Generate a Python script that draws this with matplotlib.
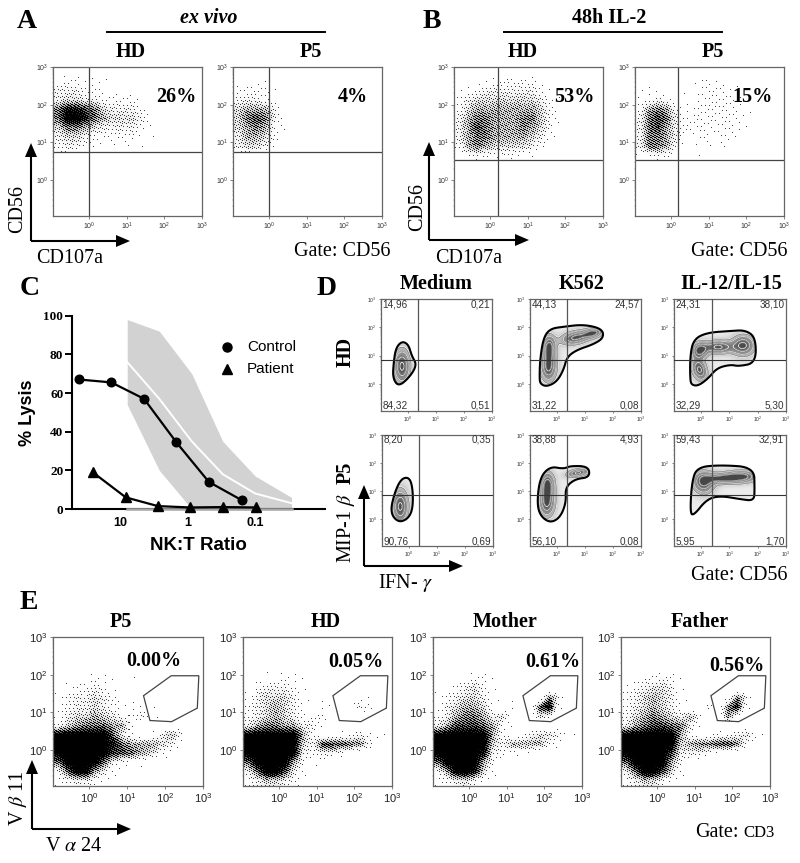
import numpy as np
import matplotlib
matplotlib.use("Agg")
import matplotlib.pyplot as plt
from matplotlib.patches import Polygon

plt.rcParams["font.family"] = ["Liberation Serif", "DejaVu Serif"]
plt.rcParams["mathtext.fontset"] = "stix"

W, H = 800, 863
LOG_MIN = -0.96

# panel C
control_ratio = [42, 13.8, 4.5, 1.49, 0.49, 0.158]
control_lysis = [67, 65.5, 57, 34.5, 14, 4.5]
patient_ratio = [26, 8.4, 2.8, 0.93, 0.3, 0.098]
patient_lysis = [19, 6, 1.5, 0.8, 1, 0.8]
band_ratio = [8, 2.67, 0.88, 0.305, 0.1, 0.029]
band_top = [98, 92, 70, 35, 17, 6]
band_low = [54, 20, 0, 0, 0, 0]
band_mean = [76, 57, 35, 18, 8, 3]

# dot density: one digit per cell, 16 by 16 cells, top row first
a_hd_density = ["0000000000000000", "1221110000000000", "3332211110000000", "3443322221000000",
                "6887643332100000", "6998654443100000", "4665433332100000", "3443222221100000",
                "2332111111000000", "1110000000000000"]
a_p5_density = ["0000000000000000", "1111000000000000", "2222100000000000", "2332100000000000",
                "4555310000000000", "4676310100000000", "4565210100000000", "3554210000000000",
                "3443100000000000", "0110000000000000"]
b_hd_density = ["0000000000000000", "0011222221000000", "1123333332100000", "2344444443110000",
                "2455555554210000", "3566555664210000", "3576555654200000", "3566555543100000",
                "2565444432000000", "1232222110000000"]
b_p5_density = ["0000000000000000", "0000001211100000", "1110011222110000", "1232111222211000",
                "2565212222211000", "3676322222211000", "3675322212211000", "3665311212110000",
                "3665211111100000", "1232100100000000"]
e_p5_density = ["0000000000000000", "0000000000000000", "0000001000000000", "0000110010000000",
                "0111211000000000", "0122321000000000", "1233432100000000", "1233432111100000",
                "1344543223100000", "2456665510000000", "9999996310135300", "9999998655543100",
                "9999997765421000", "6999963211000000", "2699531000000000", "1233210100000000"]
e_hd_density = ["0000000000000000", "0000000000000000", "0000000000000000", "0010110000000000",
                "0111211000000000", "1233321000000000", "1344431000001100", "2345431011013200",
                "2345431230000000", "3566553300000000", "9999995211123210", "9999994377766310",
                "9999993233210000", "6999952110000000", "3699731000000000", "2344321000000000"]
e_mother_density = ["0000000000000000", "0000000000000000", "0000000000000000", "0000000000000000",
                    "0001221000000000", "0123421000000000", "1234431000006300", "1345541020079100",
                    "2356653410043000", "3577765200000000", "9999995211344310", "9999994355552100",
                    "9999983211100000", "6999952100000000", "2599841000000000", "1234210000000000"]
e_father_density = ["0000000000000000", "0000000000000000", "0000000000000000", "0000000000000000",
                    "1122321000000000", "1234431000000000", "2345431000016300", "2345431003068100",
                    "2456543520062000", "3567766300000000", "9999995211223420", "9999994566776210",
                    "9999973332100000", "6999952100000000", "3699741000000000", "2344210000000000"]

# panel D: outer outlines and peaks (x, y, rx, ry, angle) in log10 units
d_outline = {
    "hd_medium": [(-0.21, 1.51), (0.02, 1.39), (0.14, 0.98), (0.32, 0.68), (0.08, 0.26), (-0.33, -0.1), (-0.54, 0.2), (-0.51, 0.74), (-0.43, 1.27)],
    "hd_k562": [(-0.62, 0.26), (-0.6, 0.86), (-0.48, 1.63), (-0.24, 1.95), (0.24, 2.02), (0.95, 2.1), (1.61, 1.95), (1.67, 1.63), (1.31, 1.4), (0.71, 1.2), (0.36, 0.95), (0.24, 0.5), (0.0, 0.08), (-0.36, -0.1), (-0.6, 0.0)],
    "hd_il": [(-0.39, 0.14), (-0.39, 0.98), (-0.27, 1.57), (0.2, 1.81), (1.04, 1.87), (1.57, 1.9), (1.93, 1.63), (1.93, 0.74), (1.33, 0.62), (1.04, 0.68), (0.56, 0.56), (0.26, 0.2), (-0.1, -0.07), (-0.33, -0.04)],
    "p5_medium": [(-0.27, 1.45), (0.02, 1.49), (0.14, 1.07), (0.14, 0.36), (-0.04, 0.0), (-0.39, -0.12), (-0.67, 0.24), (-0.51, 0.95)],
    "p5_k562": [(-0.71, 0.6), (-0.6, 1.49), (-0.24, 1.88), (0.24, 1.79), (0.48, 1.9), (1.13, 1.88), (1.17, 1.49), (0.65, 1.43), (0.3, 1.13), (0.33, 0.6), (0.12, 0.06), (-0.24, -0.14), (-0.6, 0.12)],
    "p5_il": [(-0.39, 0.24), (-0.33, 1.31), (-0.15, 1.85), (0.68, 1.93), (1.87, 1.85), (1.89, 1.07), (1.87, 0.65), (1.39, 0.71), (0.68, 0.83), (0.2, 0.71), (-0.27, 0.12)],
}
d_peaks = {
    "hd_medium": [(-0.21, 0.62, 0.2, 0.42, 0)],
    "hd_k562": [(-0.3, 0.6, 0.2, 0.36, 0), (-0.28, 1.3, 0.16, 0.3, 0), (0.65, 1.63, 0.35, 0.16, 10), (1.3, 1.8, 0.25, 0.12, 10)],
    "hd_il": [(-0.06, 0.5, 0.18, 0.28, 20), (-0.06, 1.18, 0.2, 0.2, 0), (1.49, 1.36, 0.28, 0.25, 0), (0.6, 1.3, 0.35, 0.16, 0)],
    "p5_medium": [(-0.31, 0.45, 0.2, 0.42, 0)],
    "p5_k562": [(-0.36, 0.6, 0.2, 0.36, 0), (-0.33, 1.25, 0.17, 0.3, 0), (0.75, 1.65, 0.28, 0.1, 10)],
    "p5_il": [(0.08, 1.31, 0.26, 0.28, 15), (1.45, 1.52, 0.4, 0.15, 0), (0.75, 1.45, 0.4, 0.13, 0)],
}
d_labels = {
    "hd_medium": ["14,96", "0,21", "84,32", "0,51"],
    "hd_k562": ["44,13", "24,57", "31,22", "0,08"],
    "hd_il": ["24,31", "38,10", "32,29", "5,30"],
    "p5_medium": ["8,20", "0,35", "90,76", "0,69"],
    "p5_k562": ["38,88", "4,93", "56,10", "0,08"],
    "p5_il": ["59,43", "32,91", "5,95", "1,70"],
}

# panel E
e_gate = [(1.43, 1.44), (2.16, 1.97), (2.89, 1.97), (2.85, 1.11), (2.17, 0.75), (1.6, 0.78)]

fig = plt.figure(figsize=(W / 100, H / 100), dpi=100)
over = fig.add_axes([0, 0, 1, 1], zorder=5)
over.set_xlim(0, W)
over.set_ylim(H, 0)
over.axis("off")


def box(left, top, right, bottom):
    return fig.add_axes([left / W, 1 - bottom / H, (right - left) / W, (bottom - top) / H])


def label(x, y, s, size=14.5, weight="normal", style="normal", rot=0, family=None, ha="center"):
    over.text(x, y, s, fontsize=size, fontweight=weight, fontstyle=style, rotation=rot,
              ha=ha, va="center", family=family or ["Liberation Serif", "DejaVu Serif"], color="black")


def arrows(x, y, top, right):
    over.plot([x, x], [y, top + 12], color="black", lw=1.5, solid_capstyle="butt")
    over.plot([x, right - 12], [y, y], color="black", lw=1.5, solid_capstyle="butt")
    over.add_patch(Polygon([(x - 6, top + 14), (x + 6, top + 14), (x, top)], fc="black", ec="none"))
    over.add_patch(Polygon([(right - 14, y - 6), (right - 14, y + 6), (right, y)], fc="black", ec="none"))


def flow_axes(rect, tick_size, tick_color="#333333", major_len=2):
    ax = box(*rect)
    decades = [0, 1, 2, 3]
    names = [r"$\mathregular{10^{%d}}$" % d for d in decades]
    minor = [d + np.log10(k) for d in range(-1, 3) for k in range(2, 10) if LOG_MIN < d + np.log10(k) < 3]
    for axis in (ax.xaxis, ax.yaxis):
        axis.set_ticks(decades, names)
        axis.set_ticks(minor, minor=True)
    ax.set_xlim(LOG_MIN, 3)
    ax.set_ylim(LOG_MIN, 3)
    ax.tick_params(which="major", length=major_len, width=0.5, labelsize=tick_size, pad=1.5,
                   color="#555555", labelcolor=tick_color, labelfontfamily="Liberation Sans")
    ax.tick_params(which="minor", length=1, width=0.3, color="#777777")
    for spine in ax.spines.values():
        spine.set_color("#666666")
        spine.set_linewidth(0.9)
    return ax


def stipple(ax, rows, size):
    # the digit map is turned into single dots with a fixed dither, one image pixel per screen pixel
    rows = [(r + "0" * 16)[:16] for r in rows] + ["0" * 16] * (16 - len(rows))
    grid = np.array([[int(c) for c in r] for r in rows], dtype=float)[::-1]
    step = (3 - LOG_MIN) / 16
    centres = LOG_MIN + (np.arange(16) + 0.5) * step
    fine = LOG_MIN + (np.arange(size) + 0.5) * (3 - LOG_MIN) / size
    across = np.array([np.interp(fine, centres, row) for row in grid])
    dens = np.array([np.interp(fine, centres, col) for col in across.T]).T
    cover = (dens / 9) ** 2.1
    ii, jj = np.meshgrid(np.arange(size), np.arange(size))
    threshold = (0.7549 * ii + 0.5698 * jj + 0.5) % 1
    dots = (cover > threshold).astype(float)
    img = 1 - np.clip(cover ** 1.5 + dots * 0.72, 0, 1)
    ax.imshow(img, origin="lower", extent=(LOG_MIN, 3, LOG_MIN, 3), cmap="gray", vmin=0, vmax=1,
              aspect="auto", interpolation="nearest", zorder=1)


def scatter_panel(rect, rows, gate_x, gate_y):
    ax = flow_axes(rect, 5)
    stipple(ax, rows, rect[2] - rect[0])
    ax.axvline(gate_x, color="#444444", lw=0.9)
    ax.axhline(gate_y, color="#444444", lw=0.9)


scatter_panel((53, 67, 202, 216), a_hd_density, 0.0, 0.75)
scatter_panel((233, 67, 382, 216), a_p5_density, 0.0, 0.75)
scatter_panel((454, 67, 603, 216), b_hd_density, 0.2, 0.53)
scatter_panel((635, 67, 784, 216), b_p5_density, 0.18, 0.53)

# panel C
ax = box(71.7, 315.7, 325, 509)
ax.set_xscale("log")
ax.set_xlim(10 ** 1.728, 10 ** -2.035)
ax.set_ylim(0, 100)
ax.fill_between(band_ratio, band_low, band_top, color="#d2d2d2", lw=0, zorder=1)
ax.plot(band_ratio, band_mean, color="white", lw=1.4, zorder=2)
ax.plot(control_ratio, control_lysis, color="black", lw=1.6, marker="o", ms=6.2, clip_on=False, zorder=5)
ax.plot(patient_ratio, patient_lysis, color="black", lw=1.6, marker="^", ms=6.8, clip_on=False, zorder=5)
ax.set_xticks([10, 1, 0.1], ["10", "1", "0.1"], family="Liberation Sans", fontweight="bold", fontsize=9)
ax.minorticks_off()
ax.set_yticks([0, 20, 40, 60, 80, 100])
ax.set_yticklabels(["0", "20", "40", "60", "80", "100"], fontweight="bold", fontsize=9.5)
ax.tick_params(axis="y", length=5, width=1.4, pad=1)
ax.tick_params(axis="x", length=0, pad=6)
ax.spines["top"].set_visible(False)
ax.spines["right"].set_visible(False)
ax.spines["left"].set_linewidth(1.5)
ax.spines["bottom"].set_linewidth(1.5)
ax.patch.set_alpha(0)
ax.plot(band_ratio, [0] * len(band_ratio), color="#a8a8a8", lw=1.8, zorder=4, clip_on=False)
over.plot([227], [347], ls="none", marker="o", ms=6.5, color="black")
over.plot([227], [369], ls="none", marker="^", ms=6.8, color="black")
label(247, 347, "Control", size=11, family="Liberation Sans", ha="left")
label(247, 369, "Patient", size=11, family="Liberation Sans", ha="left")
label(28, 413, "% Lysis", size=13, weight="bold", rot=90, family="Liberation Sans")
label(198, 545, "NK:T Ratio", size=13.5, weight="bold", family="Liberation Sans")


# panel D
def rounded(points, rounds=3):
    # corner cutting so the read-off outline comes out smooth
    pts = np.array(points, dtype=float)
    for _ in range(rounds):
        nxt = np.roll(pts, -1, axis=0)
        pts = np.column_stack([0.75 * pts + 0.25 * nxt, 0.25 * pts + 0.75 * nxt]).reshape(-1, 2)
    return pts


def contour_panel(rect, key, gate_x, gate_y):
    ax = flow_axes(rect, 3.6, major_len=1.5)
    xs = np.linspace(LOG_MIN, 3, 300)
    xx, yy = np.meshgrid(xs, xs)
    field = np.zeros_like(xx)
    for x, y, rx, ry, angle in d_peaks[key]:
        t = np.deg2rad(angle)
        u = (xx - x) * np.cos(t) + (yy - y) * np.sin(t)
        v = -(xx - x) * np.sin(t) + (yy - y) * np.cos(t)
        field = field + np.exp(-0.5 * ((u / rx) ** 2 + (v / ry) ** 2))
    field = np.clip(field, 0, 1.05)
    outline = rounded(d_outline[key])
    shape = Polygon(outline, closed=True, fc="#eeeeee", ec="none", zorder=2)
    ax.add_patch(shape)
    img = ax.imshow(field, origin="lower", extent=(LOG_MIN, 3, LOG_MIN, 3), cmap="gray_r", vmin=-0.12, vmax=1.5,
                    aspect="auto", zorder=3)
    img.set_clip_path(shape)
    lines = ax.contour(xs, xs, field, levels=[0.25, 0.5, 0.75, 0.95], colors="white", linewidths=0.7, zorder=4)
    lines.set_clip_path(shape)
    inner = ax.contour(xs, xs, field, levels=[0.27, 0.52, 0.77, 0.97], colors="#333333", linewidths=0.3, zorder=4)
    inner.set_clip_path(shape)
    ax.add_patch(Polygon(outline, closed=True, fc="none", ec="black", lw=1.5, zorder=5))
    ax.axvline(gate_x, color="#555555", lw=0.9, zorder=6)
    ax.axhline(gate_y, color="#333333", lw=0.8, zorder=6)
    ax.set_xlim(LOG_MIN, 3)
    ax.set_ylim(LOG_MIN, 3)
    labels = d_labels[key]
    opts = dict(fontsize=7.2, family="Liberation Sans", color="#333333", zorder=7)
    ax.text(0.015, 0.955, labels[0], transform=ax.transAxes, ha="left", va="center", **opts)
    ax.text(0.985, 0.955, labels[1], transform=ax.transAxes, ha="right", va="center", **opts)
    ax.text(0.015, 0.045, labels[2], transform=ax.transAxes, ha="left", va="center", **opts)
    ax.text(0.985, 0.045, labels[3], transform=ax.transAxes, ha="right", va="center", **opts)


contour_panel((381, 299, 492, 411), "hd_medium", 0.37, 0.85)
contour_panel((530, 299, 641, 411), "hd_k562", 0.37, 0.85)
contour_panel((674, 299, 786, 411), "hd_il", 0.38, 0.85)
contour_panel((382, 435, 493, 546), "p5_medium", 0.36, 0.85)
contour_panel((530, 435, 641, 546), "p5_k562", 0.37, 0.85)
contour_panel((674, 435, 786, 546), "p5_il", 0.38, 0.85)


# panel E
def gate_panel(rect, rows):
    ax = flow_axes(rect, 8, tick_color="#222222", major_len=2.5)
    stipple(ax, rows, rect[2] - rect[0])
    ax.add_patch(Polygon(e_gate, closed=True, fc="none", ec="#444444", lw=0.9, zorder=4))


gate_panel((53, 637, 203, 786), e_p5_density)
gate_panel((243, 637, 392, 786), e_hd_density)
gate_panel((433, 637, 582, 786), e_mother_density)
gate_panel((621, 637, 770, 786), e_father_density)

# text and arrows
for x, y, s in [(27, 22, "A"), (432, 22, "B"), (30, 288, "C"), (327, 288, "D"), (29, 602, "E")]:
    label(x, y, s, size=20, weight="bold")
label(209, 18, "ex vivo", weight="bold", style="italic")
label(609, 18, "48h IL-2", weight="bold")
over.plot([107, 325], [32, 32], color="black", lw=1.4)
over.plot([504, 722], [32, 32], color="black", lw=1.4)
for x, y, s in [(131, 52, "HD"), (311, 52, "P5"), (523, 52, "HD"), (713, 52, "P5"),
                (176, 97, "26%"), (353, 97, "4%"), (574, 97, "53%"), (753, 97, "15%"),
                (436, 284, "Medium"), (582, 284, "K562"), (731, 284, "IL-12/IL-15"),
                (121, 622, "P5"), (326, 622, "HD"), (505, 622, "Mother"), (700, 622, "Father"),
                (154, 661, "0.00%"), (356, 662, "0.05%"), (553, 662, "0.61%"), (737, 666, "0.56%")]:
    label(x, y, s, weight="bold")
label(346, 352, "HD", weight="bold", rot=90)
label(346, 473, "P5", weight="bold", rot=90)
label(18, 209, "CD56", rot=90)
label(418, 207, "CD56", rot=90)
label(70, 258, "CD107a")
label(469, 258, "CD107a")
label(342, 251, "Gate: CD56")
label(739, 251, "Gate: CD56")
label(739, 575, "Gate: CD56")
label(346, 528, r"MIP-1 $\beta$", rot=90)
label(405, 583, r"IFN- $\gamma$")
label(18, 798, r"V $\beta$ 11", rot=90)
label(74, 846, r"V $\alpha$ 24")
label(695, 832, "Gate:", ha="left")
label(743, 833, "CD3", size=12, ha="left")
arrows(31, 241, 143, 130)
arrows(429, 240, 142, 529)
arrows(364, 566, 485, 463)
arrows(32, 829, 760, 131)

fig.savefig("out.png", dpi=100)
